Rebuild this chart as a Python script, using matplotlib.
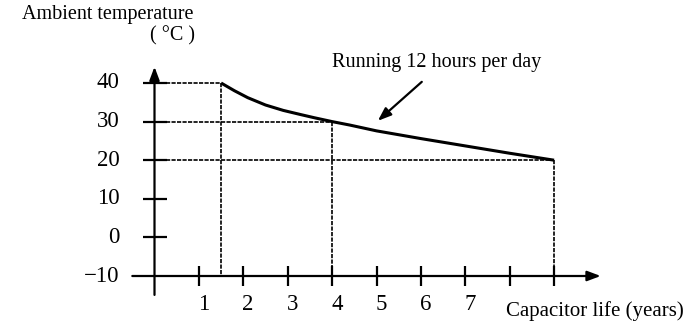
"""
Capacitor life vs ambient temperature (12 h/day).
"""
import matplotlib
matplotlib.use("Agg")
import matplotlib.pyplot as plt

# Datos
life_years = [1.5, 1.8, 2.1, 2.5, 2.9, 3.3, 3.6, 4.0, 4.4, 5.0, 6.0, 7.0, 8.0, 9.0]
temp_c = [40.0, 38.0, 36.2, 34.3, 32.9, 31.8, 31.0, 30.0, 29.1, 27.6, 25.6, 23.7, 21.8, 20.0]

y_ticks = [-10, 0, 10, 20, 30, 40]
y_tick_labels = ["\u221210", "0", "10", "20", "30", "40"]
x_ticks = [1, 2, 3, 4, 5, 6, 7, 8, 9]
x_tick_labels = ["1", "2", "3", "4", "5", "6", "7"]

# puntos marcados con lineas de guia
guide_x = [1.5, 4.0, 9.0]
guide_t = [40, 30, 20]

plt.rcParams.update({
    "font.family": "serif",
    "font.serif": ["Liberation Serif", "DejaVu Serif"],
})

FS_TICK = 16.5
FS_TEXT = 14.5

fig = plt.figure(figsize=(6.88, 3.23), dpi=100)
ax = fig.add_axes([0, 0, 1, 1])
ax.axis("off")

# escala: 44.4 px por anio, 3.86 px por grado, origen en (154.5, 276) px
ax.set_xlim(-154.5 / 44.4, (688 - 154.5) / 44.4)
ax.set_ylim(-10 - (323 - 276) / 3.86, -10 + 276 / 3.86)

y0 = -10  # el eje x esta en -10 C
arrow = dict(arrowstyle="-|>,head_length=0.8,head_width=0.3",
             color="black", lw=1.6, shrinkA=0, shrinkB=0)

# Ejes con flecha
ax.annotate("", xy=(10.05, y0), xytext=(-0.5, y0), arrowprops=arrow)
ax.annotate("", xy=(0, 44.2), xytext=(0, -14.9), arrowprops=arrow)

# Ticks
for t in y_ticks[1:]:
    ax.plot([-0.27, 0.28], [t, t], color="black", lw=1.6, solid_capstyle="butt")
for x in x_ticks:
    ax.plot([x, x], [y0 + 2.6, y0 - 2.6], color="black", lw=1.6, solid_capstyle="butt")

for t, lab in zip(y_ticks, y_tick_labels):
    ax.text(-0.78, t, lab, ha="right", va="center", fontsize=FS_TICK)
for x, lab in zip(x_ticks, x_tick_labels):
    ax.text(x + 0.11, y0 - 7.5, lab, ha="center", va="center", fontsize=FS_TICK)

# Lineas de guia punteadas
for gx, gt in zip(guide_x, guide_t):
    ax.plot([0, gx], [gt, gt], color="black", lw=1.2, ls=(0, (2.5, 0.8)))
    ax.plot([gx, gx], [gt, y0], color="black", lw=1.2, ls=(0, (2.5, 0.8)))

# Curva
ax.plot(life_years, temp_c, color="black", lw=2.2, solid_capstyle="butt",
        solid_joinstyle="round")

# Anotacion
ax.text(6.36, 45.2, "Running 12 hours per day", ha="center", va="center", fontsize=FS_TEXT)
ax.annotate("", xy=(5.03, 30.2), xytext=(6.02, 40.3), arrowprops=arrow)

# Titulos de ejes
fig.text(22 / 688, 1 - 15 / 323, "Ambient temperature", ha="left", va="center", fontsize=FS_TEXT)
fig.text(172 / 688, 1 - 36 / 323, "( \u00b0C )", ha="center", va="center", fontsize=FS_TEXT)
fig.text(506 / 688, 1 - 311 / 323, "Capacitor life (years)", ha="left", va="center", fontsize=15)

fig.savefig("out.png", dpi=100)
